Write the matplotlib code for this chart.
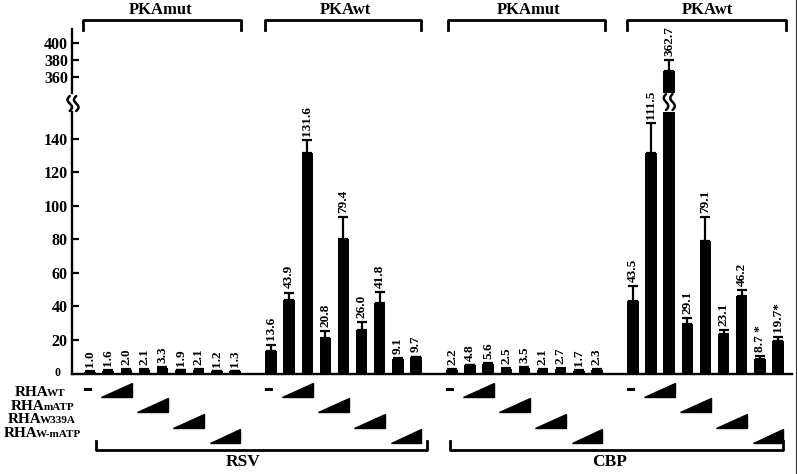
import matplotlib
matplotlib.use("Agg")
import matplotlib.pyplot as plt
from matplotlib.lines import Line2D
from matplotlib.patches import Polygon
from matplotlib.transforms import blended_transform_factory
import numpy as np

W, H = 797, 474
plt.rcParams['font.family'] = ['Liberation Serif', 'DejaVu Serif']
plt.rcParams['font.weight'] = 'bold'

# ---------------- data ----------------
reporters = ["RSV", "CBP"]
pka_labels = ["PKAmut", "PKAwt", "PKAmut", "PKAwt"]
rha_rows = ["WT", "mATP", "W339A", "W-mATP"]

rsv_mut = [1.0, 1.6, 2.0, 2.1, 3.3, 1.9, 2.1, 1.2, 1.3]
rsv_wt = [13.3, 44.1, 131.8, 21.0, 80.0, 26.0, 41.9, 8.8, 9.7]
cbp_mut = [2.2, 4.8, 5.6, 2.5, 3.5, 2.1, 2.7, 1.7, 2.3]
cbp_wt = [43.3, 131.5, 367.0, 29.5, 79.3, 23.4, 46.4, 8.5, 19.6]

rsv_mut_err = [0.2, 0.3, 0.4, 0.3, 0.5, 0.3, 0.3, 0.2, 0.2]
rsv_wt_err = [4.0, 4.2, 7.6, 4.5, 13.3, 4.6, 6.6, 0.6, 0.4]
cbp_mut_err = [0.2, 0.4, 0.4, 0.5, 0.5, 0.3, 0.4, 0.2, 0.4]
cbp_wt_err = [8.7, 18.2, 13.0, 3.5, 14.3, 2.6, 3.5, 1.9, 2.4]

rsv_mut_txt = ["1.0", "1.6", "2.0", "2.1", "3.3", "1.9", "2.1", "1.2", "1.3"]
rsv_wt_txt = ["13.6", "43.9", "131.6", "20.8", "79.4", "26.0", "41.8", "9.1", "9.7"]
cbp_mut_txt = ["2.2", "4.8", "5.6", "2.5", "3.5", "2.1", "2.7", "1.7", "2.3"]
cbp_wt_txt = ["43.5", "111.5", "362.7", "29.1", "79.1", "23.1", "46.2", "8.7 *", "19.7*"]

lower_ticks = [20, 40, 60, 80, 100, 120, 140]
upper_ticks = [360, 380, 400]

values = [rsv_mut, rsv_wt, cbp_mut, cbp_wt]
errors = [rsv_mut_err, rsv_wt_err, cbp_mut_err, cbp_wt_err]
texts = [rsv_mut_txt, rsv_wt_txt, cbp_mut_txt, cbp_wt_txt]

# ---------------- figure ----------------
fig = plt.figure(figsize=(W / 100, H / 100), dpi=100)


def fx(px):
    return px / W


def fy(py):
    return 1 - py / H


x_left, x_right = 72, 792
ax_lo = fig.add_axes([fx(x_left), fy(373.5), fx(x_right) - fx(x_left), fy(112) - fy(373.5)])
ax_hi = fig.add_axes([fx(x_left), fy(93), fx(x_right) - fx(x_left), fy(29) - fy(93)])

XLIM = (-1.0, 38.78)
ax_lo.set_ylim(0, 156.1)
ax_hi.set_ylim(341.5, 416.8)

for g in range(4):
    pos = np.arange(9) + g * 10
    vals = np.array(values[g])
    errs = np.array(errors[g])
    for ax in (ax_lo, ax_hi):
        ax.bar(pos, vals, width=0.64, color='black', zorder=2)
        ax.errorbar(pos, vals, yerr=[np.zeros_like(errs), errs], fmt='none',
                    ecolor='black', elinewidth=1.6, capsize=3.6, capthick=1.6, zorder=3)
    for x, v, e, t in zip(pos, vals, errs, texts[g]):
        top = v + e
        ax = ax_hi if top > 300 else ax_lo
        ax.annotate(t, (x, top), xytext=(0, 3), textcoords='offset points',
                    rotation=90, ha='center', va='bottom', fontsize=9.5,
                    fontweight='bold', annotation_clip=False)

for ax in (ax_lo, ax_hi):
    ax.set_xlim(*XLIM)
    ax.set_xticks([])
    ax.patch.set_alpha(0)
    for s in ('top', 'right'):
        ax.spines[s].set_visible(False)
    ax.spines['left'].set_linewidth(1.7)
    ax.tick_params(axis='y', direction='in', length=5, width=1.6, labelsize=11.5, pad=3)

ax_hi.spines['bottom'].set_visible(False)
ax_lo.spines['bottom'].set_linewidth(1.7)
ax_lo.set_yticks(lower_ticks, labels=[str(v) for v in lower_ticks], fontweight='bold')
ax_hi.set_yticks(upper_ticks, labels=[str(v) for v in upper_ticks], fontweight='bold')
fig.text(fx(57), fy(373), "0", ha='center', va='center', fontsize=8.5)


# break squiggles
def squiggle(xc, ytop, ybot, w=4.5, gap=6.5):
    t = np.linspace(0, 1, 60)
    for off in (-gap / 2, gap / 2):
        xs = xc + off - w / 2 * np.sin(2 * np.pi * t)
        ys = ytop + (ybot - ytop) * t
        fig.add_artist(Line2D(fx(xs), fy(ys), transform=fig.transFigure,
                              color='black', lw=1.8, solid_capstyle='round'))


squiggle(73, 96, 111)
tr_x = ax_lo.transData.transform((20 + 10 + 2, 0))[0]
squiggle(tr_x, 94, 110)

# bottom design (triangles, dashes, brackets)
tr = blended_transform_factory(ax_lo.transData, fig.transFigure)
row_base = [397, 412, 428, 443]
for g in range(4):
    p0 = g * 10
    ax_lo.add_line(Line2D([p0 - 0.27, p0 + 0.0], [fy(389)] * 2, transform=tr,
                          color='black', lw=2.2, clip_on=False))
    for r in range(4):
        i = 2 * r + 1
        x0 = p0 + i - 0.4
        x1 = p0 + i + 1 + 0.3
        b = row_base[r]
        ax_lo.add_patch(Polygon([(x0, fy(b)), (x1, fy(b)), (x1, fy(b - 14))],
                                closed=True, transform=tr, color='black', clip_on=False))

# bottom brackets
bot_brackets = [(0.3, 18.6), (19.9, 38.3)]
bot_label_x = [8.45, 28.7]
for (a, b), lx, name in zip(bot_brackets, bot_label_x, reporters):
    ax_lo.add_line(Line2D([a, a, b, b], [fy(441), fy(450), fy(450), fy(441)], transform=tr,
                          color='black', lw=2.0, clip_on=False))
    ax_lo.text(lx, fy(462), name, transform=tr, ha='center', va='center', fontsize=12.5)

# top brackets
top_brackets = [(-0.39, 8.34), (9.67, 18.29), (19.78, 28.45), (29.67, 38.45)]
top_label_x = [3.87, 14.1, 24.2, 34.1]
for (a, b), lx, name in zip(top_brackets, top_label_x, pka_labels):
    ax_lo.add_line(Line2D([a, a, b, b], [fy(30), fy(20), fy(20), fy(30)], transform=tr,
                          color='black', lw=2.0, clip_on=False))
    ax_lo.text(lx, fy(10.5), name, transform=tr, ha='center', va='center', fontsize=12)

# row labels (RHA + small subscript on the same baseline), centred like the reference
renderer = fig.canvas.get_renderer()
centers = [40, 42.5, 42, 42.5]
baselines = [396, 409.5, 423, 437]
for sub, cx, by in zip(rha_rows, centers, baselines):
    t1 = fig.text(0, fy(by), "RHA", ha='left', va='baseline', fontsize=11)
    t2 = fig.text(0, fy(by), sub, ha='left', va='baseline', fontsize=8)
    w1 = t1.get_window_extent(renderer).width - 1.5
    w2 = t2.get_window_extent(renderer).width
    left = max(cx - (w1 + w2) / 2, 1.0)
    t1.set_x(fx(left))
    t2.set_x(fx(left + w1))

# right border
fig.add_artist(Line2D([fx(795.5)] * 2, [0, 1], transform=fig.transFigure, color='#333333', lw=0.8))

fig.savefig("out.png", dpi=100)
